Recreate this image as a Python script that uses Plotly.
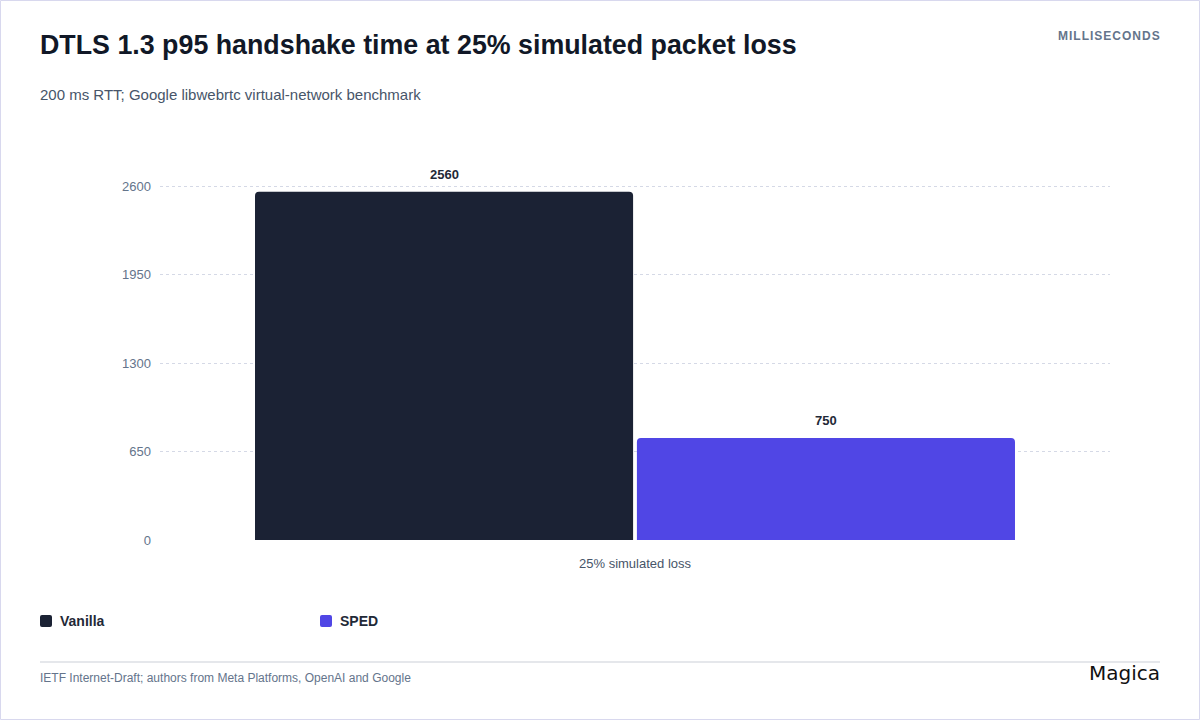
import plotly.graph_objects as go

# data
categories = ["25% simulated loss"]
series_names = ["Vanilla", "SPED"]
vanilla_ms = [2560]
sped_ms = [750]
y_ticks = [0, 650, 1300, 1950, 2600]

colors = {"Vanilla": "#1b2234", "SPED": "#5046e5"}
font_family = "Liberation Sans, Arial, sans-serif"

# plot area in page pixels
L, R, T, B = 160, 1110, 185, 540
W, H = R - L, B - T
BARGAP = 0.196


def px_x(x):
    return (x - L) / W


def px_y(y):
    return (B - y) / H


fig = go.Figure()
series = [vanilla_ms, sped_ms]
for i, (name, vals) in enumerate(zip(series_names, series)):
    fig.add_trace(go.Bar(
        x=categories, y=vals, name=name,
        marker=dict(color=colors[name], line=dict(width=0)),
        hovertemplate="%{x}<br>" + name + ": %{y} ms<extra></extra>",
    ))
    # value labels sit a little higher than plotly's outside text, so annotate
    slot = (1 - BARGAP) / len(series)
    offset = (-(1 - BARGAP) / 2 + slot * (i + 0.5)) * W / len(categories)
    for cat, v in zip(categories, vals):
        fig.add_annotation(x=cat, y=v, xref="x", yref="y", text="<b>%d</b>" % v,
                           showarrow=False, xshift=offset, yanchor="bottom", yshift=8,
                           font=dict(size=13, color="#1f2937"))

fig.update_layout(
    width=1200, height=720,
    paper_bgcolor="white", plot_bgcolor="white",
    margin=dict(l=L, r=1200 - R, t=T, b=720 - B),
    barmode="group", bargap=BARGAP, bargroupgap=0.01, barcornerradius=4,
    font=dict(family=font_family, color="#64748b"),
    showlegend=False,
)

fig.update_yaxes(
    range=[0, 2610], tickvals=y_ticks, showgrid=True,
    gridcolor="#d5d9e6", griddash="3px,3px", gridwidth=1,
    zeroline=False, showline=False, ticks="",
    tickfont=dict(size=13, color="#64748b"), ticklabelstandoff=8,
)
fig.update_xaxes(
    showline=False, ticks="", showgrid=False,
    tickfont=dict(size=13, color="#475569"), ticklabelstandoff=14,
)

# title block
fig.add_annotation(text="<b>DTLS 1.3 p95 handshake time at 25% simulated packet loss</b>",
                   xref="paper", yref="paper", x=px_x(38), y=px_y(45),
                   xanchor="left", yanchor="middle", showarrow=False,
                   font=dict(size=26.8, color="#111827"))
fig.add_annotation(text="200 ms RTT; Google libwebrtc virtual-network benchmark",
                   xref="paper", yref="paper", x=px_x(38), y=px_y(95),
                   xanchor="left", yanchor="middle", showarrow=False,
                   font=dict(size=15, color="#475569"))
fig.add_annotation(text="<b>M I L L I S E C O N D S</b>".replace(" ", "&#8202;"),
                   xref="paper", yref="paper", x=px_x(1162), y=px_y(36),
                   xanchor="right", yanchor="middle", showarrow=False,
                   font=dict(size=12, color="#64748b"))

# legend, drawn by hand so it sits where the reference has it
legend_x = [40, 320]
for name, lx in zip(series_names, legend_x):
    x0, x1, r = lx, lx + 12, 2
    y0, y1 = 615, 627
    path = ("M {a},{t} L {b},{t} Q {c},{t} {c},{tr} L {c},{br} Q {c},{bo} {b},{bo} "
            "L {a},{bo} Q {d},{bo} {d},{br} L {d},{tr} Q {d},{t} {a},{t} Z").format(
        a=px_x(x0 + r), b=px_x(x1 - r), c=px_x(x1), d=px_x(x0),
        t=px_y(y0), tr=px_y(y0 + r), br=px_y(y1 - r), bo=px_y(y1))
    fig.add_shape(type="path", xref="paper", yref="paper", path=path,
                  fillcolor=colors[name], line=dict(width=0))
    fig.add_annotation(text="<b>" + name + "</b>", xref="paper", yref="paper",
                       x=px_x(lx + 18), y=px_y(621), xanchor="left", yanchor="middle",
                       showarrow=False, font=dict(size=14, color="#1f2937"))

# footer
fig.add_shape(type="line", xref="paper", yref="paper",
              x0=px_x(40), x1=px_x(1160), y0=px_y(662), y1=px_y(662),
              line=dict(color="#e5e7eb", width=2))
fig.add_annotation(text="IETF Internet-Draft; authors from Meta Platforms, OpenAI and Google",
                   xref="paper", yref="paper", x=px_x(38), y=px_y(678),
                   xanchor="left", yanchor="middle", showarrow=False,
                   font=dict(size=12, color="#64748b"))
fig.add_annotation(text="Magica",
                   xref="paper", yref="paper", x=px_x(1162), y=px_y(673),
                   xanchor="right", yanchor="middle", showarrow=False,
                   font=dict(size=20, color="#111111", family="DejaVu Sans"))

# page border
fig.add_shape(type="rect", xref="paper", yref="paper",
              x0=px_x(0.5), x1=px_x(1199.5), y0=px_y(719.5), y1=px_y(0.5),
              line=dict(color="#d8d8ee", width=1))

fig.write_html("out.html", config={"displayModeBar": False},
               post_script="document.body.style.margin='0';")
